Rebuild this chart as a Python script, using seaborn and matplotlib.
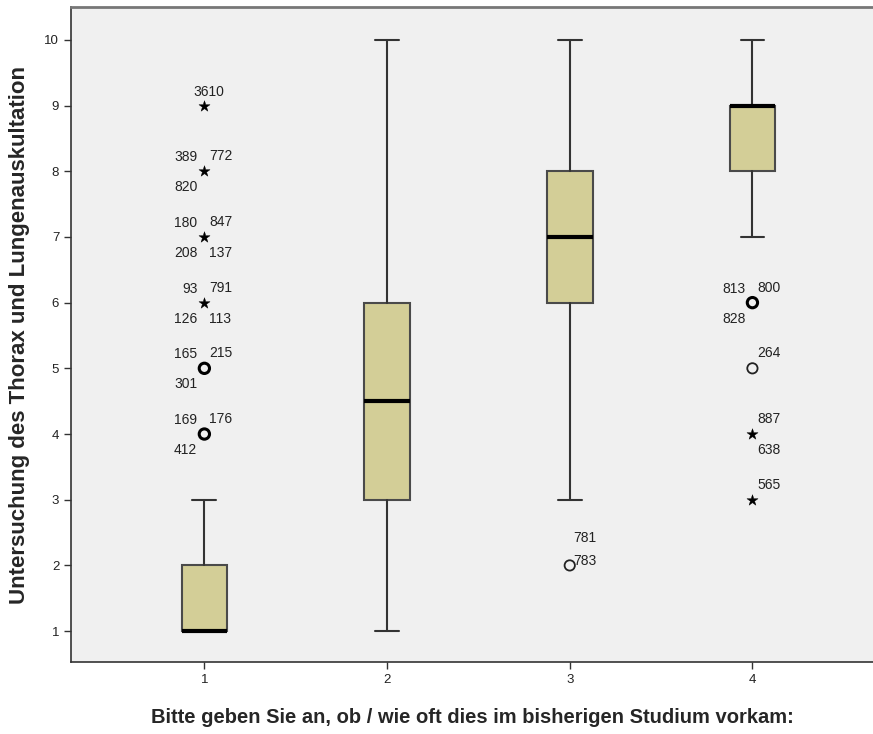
import matplotlib
matplotlib.use("Agg")
import matplotlib.pyplot as plt
import seaborn as sns
import pandas as pd

# box statistics, one entry per answer category
groups = [1, 2, 3, 4]
whisker_low = [1, 1, 3, 7]
q1 = [1, 3, 6, 8]
median = [1, 4.5, 7, 9]
q3 = [2, 6, 8, 9]
whisker_high = [3, 10, 10, 10]

# outliers: group, value, marker kind, heavy (several cases stacked)
out_group = [1, 1, 1, 1, 1, 1, 3, 4, 4, 4, 4]
out_value = [9, 8, 7, 6, 5, 4, 2, 6, 5, 4, 3]
out_kind = ["extreme", "extreme", "extreme", "extreme", "outlier", "outlier",
            "outlier", "outlier", "outlier", "extreme", "extreme"]
out_heavy = [False, False, False, False, True, True, False, True, False, False, False]

# case labels per outlier: (above-left, above-right, below-left, below-right)
case_labels = [
    ("", "3610", "", ""),
    ("389", "772", "820", ""),
    ("180", "847", "208", "137"),
    ("93", "791", "126", "113"),
    ("165", "215", "301", ""),
    ("169", "176", "412", ""),
    ("", "781", "", "783"),
    ("813", "800", "828", ""),
    ("", "264", "", ""),
    ("", "887", "", "638"),
    ("", "565", "", ""),
]

sns.set_style("white")
plt.rcParams["font.family"] = ["Liberation Sans", "DejaVu Sans"]

fig = plt.figure(figsize=(8.73, 7.34), dpi=100)
ax = fig.add_axes([71 / 873, 1 - 662 / 734, 1 - 71 / 873, (662 - 7) / 734])
ax.set_facecolor("#f0f0f0")

stats = []
for i in range(len(groups)):
    stats.append({"whislo": whisker_low[i], "q1": q1[i], "med": median[i],
                  "q3": q3[i], "whishi": whisker_high[i], "fliers": []})

ax.bxp(stats, positions=groups, widths=0.25, capwidths=0.13, patch_artist=True,
       showfliers=False,
       boxprops=dict(facecolor="#d3ce97", edgecolor="#4a4a4a", linewidth=1.5),
       medianprops=dict(color="black", linewidth=3),
       whiskerprops=dict(color="#333333", linewidth=1.5),
       capprops=dict(color="#333333", linewidth=1.5))

outliers = pd.DataFrame({"group": out_group, "value": out_value,
                         "kind": out_kind, "heavy": out_heavy})

stars = outliers[outliers["kind"] == "extreme"]
sns.scatterplot(data=stars, x="group", y="value", marker="*", s=70,
                color="black", edgecolor="black", linewidth=0.3, ax=ax, legend=False)
light = outliers[(outliers["kind"] == "outlier") & (~outliers["heavy"])]
sns.scatterplot(data=light, x="group", y="value", marker="o", s=55,
                facecolor="none", edgecolor="#222222", linewidth=1.3, ax=ax, legend=False)
heavy = outliers[(outliers["kind"] == "outlier") & (outliers["heavy"])]
sns.scatterplot(data=heavy, x="group", y="value", marker="o", s=55,
                facecolor="none", edgecolor="black", linewidth=2.2, ax=ax, legend=False)

# case number labels beside each outlier
offsets = [(-7, 14, "right"), (5, 15, "left"), (-7, -16, "right"), (5, -16, "left")]
for g, v, labels in zip(out_group, out_value, case_labels):
    for lab, (dx, dy, ha) in zip(labels, offsets):
        if not lab:
            continue
        if g == 3 and lab == "781":
            dx, dy = 4, 27
        if g == 3 and lab == "783":
            dx, dy = 4, 4
        if lab == "3610":
            dx, dy, ha = -11, 14, "left"
        ax.annotate(lab, (g, v), xytext=(dx, dy), textcoords="offset pixels",
                    ha=ha, va="center", fontsize=10, color="#222222")

ax.set_xlim(0.27, 4.66)
ax.set_ylim(0.53, 10.5)
ax.set_xticks(groups)
ax.set_yticks(range(1, 11))
ax.tick_params(axis="both", length=5, width=1, color="#333333", labelsize=9.5,
               labelcolor="#222222", direction="out", bottom=True, left=True)

for side in ["left", "bottom"]:
    ax.spines[side].set_color("#333333")
    ax.spines[side].set_linewidth(1.2)
ax.spines["top"].set_color("#777777")
ax.spines["top"].set_linewidth(2)
ax.spines["right"].set_visible(False)

ax.set_xlabel("Bitte geben Sie an, ob / wie oft dies im bisherigen Studium vorkam:",
              fontsize=14.5, fontweight="bold", labelpad=16)
ax.set_ylabel("Untersuchung des Thorax und Lungenauskultation",
              fontsize=16, fontweight="bold", labelpad=10)

fig.savefig("out.png", dpi=100)
